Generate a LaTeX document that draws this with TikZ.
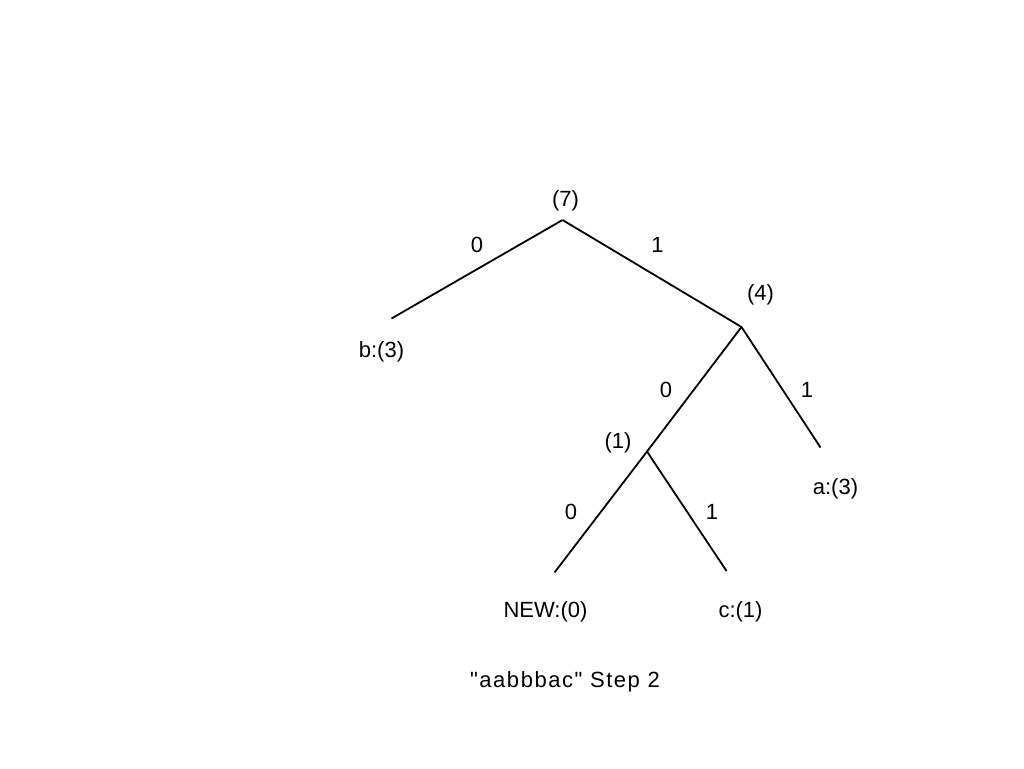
\documentclass[tikz,border=0pt]{standalone}
\usepackage{fontspec}
\setmainfont{Liberation Sans}
\newfontfamily\capfont[LetterSpace=7]{Liberation Sans}
\begin{document}
\begin{tikzpicture}[x=1pt,y=-1pt,
  edge/.style={line width=1.8pt,line cap=butt},
  lbl/.style={inner sep=0pt,anchor=base,font=\fontsize{22}{26}\selectfont}]
\useasboundingbox[fill=white] (0,0) rectangle (1024,768);
% tree points
\coordinate (root) at (562.5,220);
\coordinate (bleaf) at (391.5,318.5);
\coordinate (n4) at (741.5,327);
\coordinate (aleaf) at (820.5,447.5);
\coordinate (n1) at (647,451.5);
\coordinate (newleaf) at (554.5,572.5);
\coordinate (cleaf) at (726.5,571);
% edges
\draw[edge] (root) -- (bleaf);
\draw[edge] (root) -- (n4);
\draw[edge] (n4) -- (n1);
\draw[edge] (n4) -- (aleaf);
\draw[edge] (n1) -- (newleaf);
\draw[edge] (n1) -- (cleaf);
% labels
\node[lbl] (t7) at (565.5,206) {(7)};
\node[lbl] (e0a) at (477,252) {0};
\node[lbl] (e1a) at (657.5,252) {1};
\node[lbl] (t4) at (760.5,300) {(4)};
\node[lbl] (tb) at (381.5,357) {b:(3)};
\node[lbl] (e0b) at (666,397) {0};
\node[lbl] (e1b) at (807,397) {1};
\node[lbl] (t1) at (618,448) {(1)};
\node[lbl] (ta) at (835.5,494) {a:(3)};
\node[lbl] (e0c) at (571,519) {0};
\node[lbl] (e1c) at (712,519) {1};
\node[lbl] (tnew) at (545.5,617) {NEW:(0)};
\node[lbl] (tc) at (740.5,617) {c:(1)};
\node[lbl,font=\capfont\fontsize{22}{26}\selectfont] (cap) at (565,687) {\symbol{34}aabbbac\symbol{34} Step 2};
\end{tikzpicture}
\end{document}
